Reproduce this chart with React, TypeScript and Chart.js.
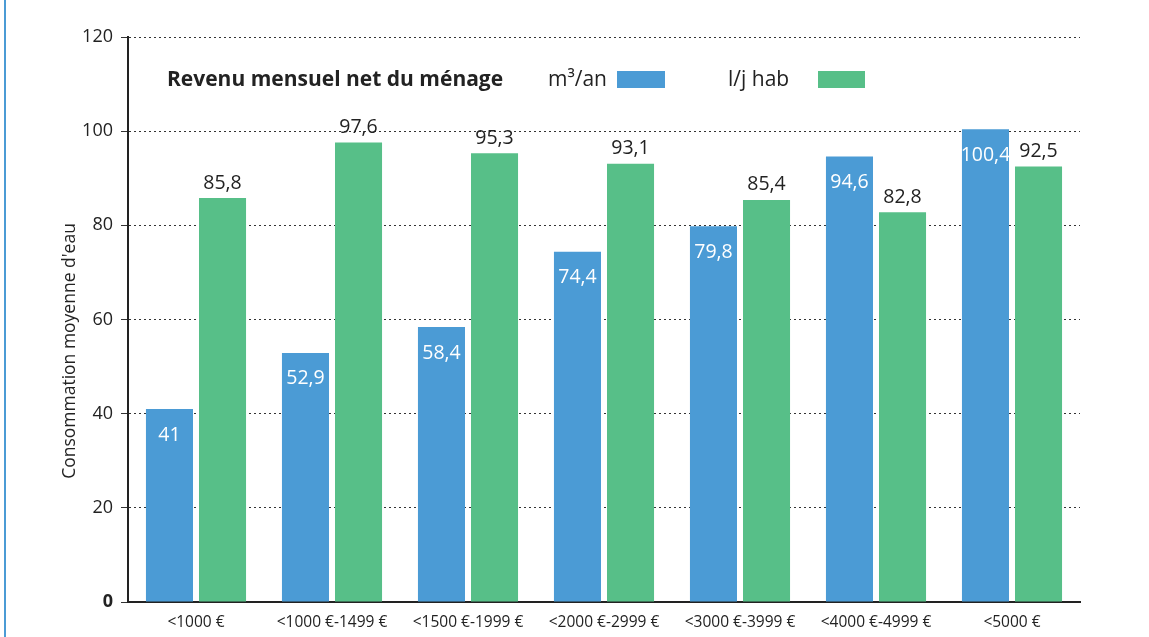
import React, { useEffect, useRef } from "react";
import { Chart, registerables } from "chart.js";

Chart.register(...registerables);

const categories = ["<1000 €", "<1000 €-1499 €", "<1500 €-1999 €", "<2000 €-2999 €", "<3000 €-3999 €", "<4000 €-4999 €", "<5000 €"];
const m3an = [41, 52.9, 58.4, 74.4, 79.8, 94.6, 100.4];
const ljhab = [85.8, 97.6, 95.3, 93.1, 85.4, 82.8, 92.5];
const seriesNames = ["m³/an", "l/j hab"];
const legendTitle = "Revenu mensuel net du ménage";
const yTitle = "Consommation moyenne d'eau";

const BLUE = "#4B9BD5";
const GREEN = "#57BF88";
const FONT = "'Open Sans', 'Noto Sans', sans-serif";
const fmt = (v: number) => String(v).replace(".", ",");

const overlayPlugin = {
  id: "overlay",
  afterDatasetsDraw(chart: any) {
    const ctx = chart.ctx;
    ctx.save();
    chart.data.datasets.forEach((ds: any, di: number) => {
      const meta = chart.getDatasetMeta(di);
      meta.data.forEach((bar: any, i: number) => {
        const v = ds.data[i];
        ctx.font = `19.5px ${FONT}`;
        ctx.textAlign = "center";
        ctx.textBaseline = "middle";
        if (di === 0) {
          ctx.fillStyle = "#ffffff";
          ctx.fillText(fmt(v), bar.x, bar.y + 26);
        } else {
          ctx.fillStyle = "#222222";
          ctx.fillText(fmt(v), bar.x, bar.y - 15);
        }
      });
    });
    ctx.textBaseline = "middle";
    ctx.textAlign = "left";
    ctx.fillStyle = "#222222";
    ctx.font = `bold 21px ${FONT}`;
    ctx.fillText(legendTitle, 167, 80);
    ctx.font = `21px ${FONT}`;
    ctx.fillText(seriesNames[0], 548, 80);
    ctx.fillText(seriesNames[1], 728, 80);
    ctx.fillStyle = BLUE;
    ctx.fillRect(617, 71, 48, 17);
    ctx.fillStyle = GREEN;
    ctx.fillRect(818, 71, 47, 17);
    ctx.translate(70, 351);
    ctx.rotate(-Math.PI / 2);
    ctx.textAlign = "center";
    ctx.fillStyle = "#222222";
    ctx.font = `17.5px ${FONT}`;
    ctx.fillText(yTitle, 0, 0);
    ctx.restore();
  },
};

export default function App() {
  const ref = useRef<HTMLCanvasElement | null>(null);
  useEffect(() => {
    if (!ref.current) return;
    const chart = new Chart(ref.current, {
      type: "bar",
      data: {
        labels: categories,
        datasets: [
          { label: seriesNames[0], data: m3an, backgroundColor: BLUE, categoryPercentage: 0.78, barPercentage: 0.887 },
          { label: seriesNames[1], data: ljhab, backgroundColor: GREEN, categoryPercentage: 0.78, barPercentage: 0.887 },
        ],
      },
      options: {
        animation: false,
        responsive: false,
        maintainAspectRatio: false,
        layout: { padding: { left: 0, right: 69, top: 37, bottom: 0 } },
        plugins: { legend: { display: false }, tooltip: { enabled: false }, title: { display: false } },
        scales: {
          x: {
            grid: { display: false, drawTicks: false },
            border: { display: true, color: "#222222", width: 2 },
            ticks: { color: "#222222", font: { family: FONT, size: 15.5 }, padding: 11, maxRotation: 0, autoSkip: false },
            afterFit: (s: any) => { s.height = 35; },
          },
          y: {
            min: 0,
            max: 120,
            ticks: {
              stepSize: 20,
              color: "#222222",
              padding: 8,
              font: (c: any) => ({ family: FONT, size: 18, weight: c.tick && c.tick.value === 0 ? "bold" : "normal" }),
            },
            grid: { color: "#333333", lineWidth: 1, tickLength: 7, drawTicks: true },
            border: { display: true, color: "#222222", width: 2, dash: [2, 3] as any },
            afterFit: (s: any) => { s.width = 128; },
          },
        },
      },
      plugins: [overlayPlugin],
    });
    return () => chart.destroy();
  }, []);
  return (
    <div style={{ position: "fixed", left: 0, top: 0, width: 1149, height: 637, background: "#fff" }}>
      <div style={{ position: "absolute", left: 4, top: 0, width: 2, height: 637, background: BLUE }} />
      <canvas ref={ref} width={1149} height={637} style={{ position: "absolute", left: 0, top: 0 }} />
    </div>
  );
}
